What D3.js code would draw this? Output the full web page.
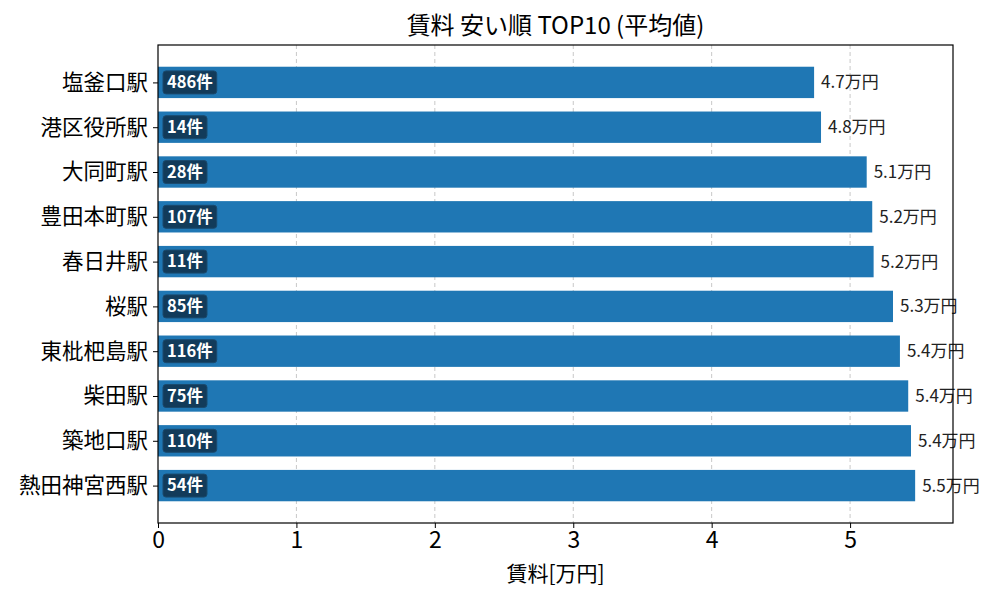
<!DOCTYPE html>
<html>
<head>
<meta charset="utf-8">
<script src="https://cdn.jsdelivr.net/npm/d3@7"></script>
<style>
  body { margin: 0; background: #fff; }
  svg { font-family: "Noto Sans CJK JP", "Noto Sans", sans-serif; }
</style>
</head>
<body>
<div id="chart"></div>
<script>
const stations = ['塩釜口駅', '港区役所駅', '大同町駅', '豊田本町駅', '春日井駅', '桜駅', '東枇杷島駅', '柴田駅', '築地口駅', '熱田神宮西駅'];
const rents = [4.74, 4.79, 5.12, 5.16, 5.17, 5.31, 5.36, 5.42, 5.44, 5.47];
const counts = [486, 14, 28, 107, 11, 85, 116, 75, 110, 54];
const xTicks = [0, 1, 2, 3, 4, 5];

const width = 1000, height = 600;
const margin = { top: 45, right: 47, bottom: 77, left: 158 };

const svg = d3.select('#chart').append('svg')
  .attr('width', width)
  .attr('height', height);

const x = d3.scaleLinear()
  .domain([0, d3.max(rents) * 1.05])
  .range([margin.left, width - margin.right]);

// matplotlib style: bar height 0.7, 5% margins
const y = d3.scaleLinear()
  .domain([-0.835, stations.length - 1 + 0.835])
  .range([margin.top, height - margin.bottom]);
const barH = y(0.35) - y(-0.35);

// grid
svg.append('g')
  .selectAll('line')
  .data(xTicks.slice(1))
  .join('line')
  .attr('x1', d => x(d)).attr('x2', d => x(d))
  .attr('y1', margin.top).attr('y2', height - margin.bottom)
  .attr('stroke', '#c8c8c8')
  .attr('stroke-width', 1)
  .attr('stroke-dasharray', '4,3');

const rows = stations.map((s, i) => ({ s, v: rents[i], n: counts[i], i }));

// bars
svg.append('g')
  .selectAll('rect')
  .data(rows)
  .join('rect')
  .attr('x', x(0))
  .attr('y', d => y(d.i) - barH / 2)
  .attr('width', d => x(d.v) - x(0))
  .attr('height', barH)
  .attr('fill', '#1f77b4');

// value labels
svg.append('g')
  .selectAll('text')
  .data(rows)
  .join('text')
  .attr('x', d => x(d.v) + 7)
  .attr('y', d => y(d.i))
  .attr('dy', '0.35em')
  .attr('font-size', 17)
  .attr('fill', '#222')
  .text(d => d.v.toFixed(1) + '万円');

// count badges
const badge = svg.append('g')
  .selectAll('g')
  .data(rows)
  .join('g')
  .attr('transform', d => `translate(${x(0) + 5},${y(d.i)})`);

badge.append('text')
  .attr('x', 4)
  .attr('dy', '0.35em')
  .attr('font-size', 16.5)
  .attr('font-weight', 'bold')
  .attr('fill', '#fff')
  .text(d => d.n + '件');

badge.each(function () {
  const g = d3.select(this);
  const w = g.select('text').node().getComputedTextLength();
  g.insert('rect', 'text')
    .attr('x', 0)
    .attr('y', -11.5)
    .attr('width', w + 8)
    .attr('height', 23)
    .attr('rx', 3)
    .attr('fill', '#123b5a')
    .attr('stroke', '#1a4a6e')
    .attr('stroke-width', 1);
});

// axes
const xAxis = svg.append('g')
  .attr('transform', `translate(0,${height - margin.bottom})`)
  .call(d3.axisBottom(x).tickValues(xTicks).tickFormat(d3.format('d')).tickSize(5).tickPadding(4));
xAxis.select('.domain').remove();
xAxis.selectAll('text').attr('font-size', 23).attr('fill', '#000').attr('font-family', '"Noto Sans CJK JP", sans-serif');
xAxis.selectAll('line').attr('stroke', '#000');

const yAxis = svg.append('g')
  .attr('transform', `translate(${margin.left},0)`)
  .call(d3.axisLeft(y).tickValues(d3.range(stations.length)).tickFormat(i => stations[i]).tickSize(5).tickPadding(5));
yAxis.select('.domain').remove();
yAxis.selectAll('text').attr('font-size', 21.5).attr('fill', '#000').attr('font-family', '"Noto Sans CJK JP", sans-serif');
yAxis.selectAll('line').attr('stroke', '#000');

// frame
svg.append('rect')
  .attr('x', margin.left)
  .attr('y', margin.top)
  .attr('width', width - margin.left - margin.right)
  .attr('height', height - margin.top - margin.bottom)
  .attr('fill', 'none')
  .attr('stroke', '#000')
  .attr('stroke-width', 1.2);

// title & label
const cx = (margin.left + width - margin.right) / 2;
svg.append('text')
  .attr('x', cx)
  .attr('y', 34)
  .attr('text-anchor', 'middle')
  .attr('font-size', 24)
  .attr('fill', '#000')
  .text('賃料 安い順 TOP10 (平均値)');

svg.append('text')
  .attr('x', cx)
  .attr('y', 581)
  .attr('text-anchor', 'middle')
  .attr('font-size', 21)
  .attr('fill', '#000')
  .text('賃料[万円]');
</script>
</body>
</html>
